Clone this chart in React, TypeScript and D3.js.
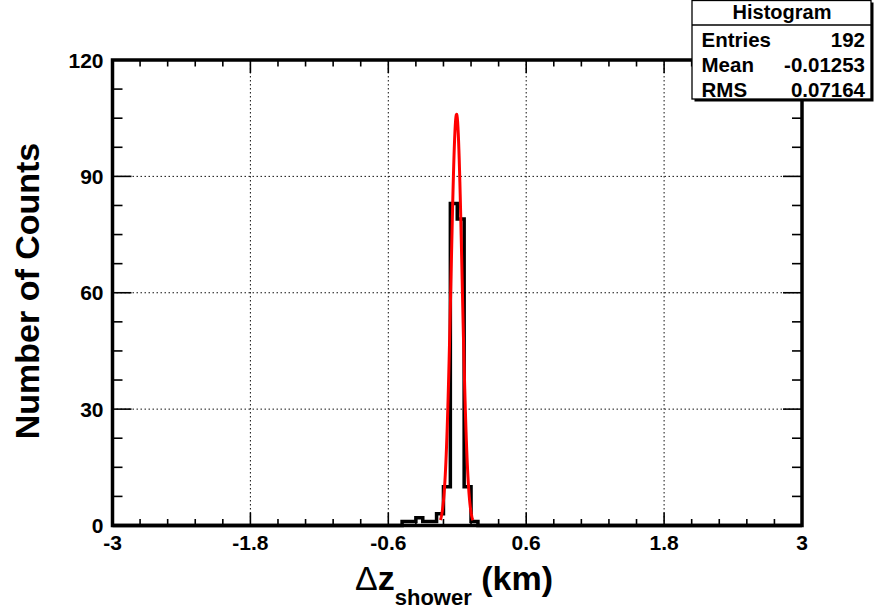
import React from "react";
import * as d3 from "d3";

// ---- data ----
const xDomain = [-3, 3];
const yDomain = [0, 120];
const nBins = 100;
// non-empty bins: lower edges and counts
const binLowEdges = [-0.48, -0.42, -0.36, -0.3, -0.24, -0.18, -0.12, -0.06, 0.0, 0.06, 0.12];
const binCounts = [1, 1, 2, 1, 1, 3, 10, 83, 79, 10, 1];
const xMajorTicks = [-3, -1.8, -0.6, 0.6, 1.8, 3];
const xTickLabels = ["-3", "-1.8", "-0.6", "0.6", "1.8", "3"];
const yMajorTicks = [0, 30, 60, 90, 120];
const yTickLabels = ["0", "30", "60", "90", "120"];
// gaussian fit parameters
const fitConstant = 106;
const fitMean = -0.006;
const fitSigma = 0.048;
const fitRange = [-0.147, 0.136];
// stats box
const statTitle = "Histogram";
const statNames = ["Entries", "Mean", "RMS"];
const statValues = ["192", "-0.01253", "0.07164"];

const W = 874;
const H = 612;
const FONT = "'Liberation Sans', Arial, Helvetica, sans-serif";

export default function App() {
  const x = d3.scaleLinear().domain(xDomain).range([112.5, 802]);
  const y = d3.scaleLinear().domain(yDomain).range([525.5, 60]);
  const [x0, x1] = x.range();
  const [yb, yt] = y.range();

  const binWidth = (xDomain[1] - xDomain[0]) / nBins;
  const counts: number[] = new Array(nBins).fill(0);
  binLowEdges.forEach((lo, i) => {
    const idx = Math.round((lo - xDomain[0]) / binWidth);
    counts[idx] = binCounts[i];
  });

  let hist = `M${x(xDomain[0])},${y(0)}`;
  counts.forEach((c, i) => {
    const lo = xDomain[0] + i * binWidth;
    const hi = lo + binWidth;
    hist += `L${x(lo)},${y(c)}L${x(hi)},${y(c)}`;
  });
  hist += `L${x(xDomain[1])},${y(0)}`;

  const nPts = 100;
  const fitPts: [number, number][] = d3.range(nPts + 1).map((k) => {
    const xv = fitRange[0] + (k / nPts) * (fitRange[1] - fitRange[0]);
    const v = fitConstant * Math.exp(-0.5 * ((xv - fitMean) / fitSigma) ** 2);
    return [x(xv), y(v)];
  });
  const fitPath = d3.line()(fitPts) || "";

  const xMinor = d3.range(0, 26).map((k) => xDomain[0] + k * 0.24);
  const yMinor = d3.range(0, 17).map((k) => k * 7.5);

  const tickW = 1.6;

  return (
    <svg
      width={W}
      height={H}
      style={{ position: "absolute", left: 0, top: 0, background: "#fff" }}
      fontFamily={FONT}
    >
      <rect x={0} y={0} width={W} height={H} fill="#fff" />
      {/* grid */}
      {xMajorTicks
        .filter((t) => t > xDomain[0] && t < xDomain[1])
        .map((t) => (
          <line key={"gx" + t} x1={x(t)} x2={x(t)} y1={yt} y2={yb} stroke="#111" strokeWidth={1} strokeDasharray="1.5 2.5" />
        ))}
      {yMajorTicks
        .filter((t) => t > yDomain[0] && t < yDomain[1])
        .map((t) => (
          <line key={"gy" + t} x1={x0} x2={x1} y1={y(t)} y2={y(t)} stroke="#111" strokeWidth={1} strokeDasharray="1.5 2.5" />
        ))}

      {/* ticks */}
      {xMinor.map((t) => {
        const major = xMajorTicks.some((m) => Math.abs(m - t) < 1e-6);
        const L = major ? 13 : 6.5;
        return (
          <g key={"xt" + t}>
            <line x1={x(t)} x2={x(t)} y1={yb} y2={yb - L} stroke="#000" strokeWidth={tickW} />
            <line x1={x(t)} x2={x(t)} y1={yt} y2={yt + L} stroke="#000" strokeWidth={tickW} />
          </g>
        );
      })}
      {yMinor.map((t) => {
        const major = yMajorTicks.some((m) => Math.abs(m - t) < 1e-6);
        const L = major ? 19 : 10;
        return (
          <g key={"yt" + t}>
            <line x1={x0} x2={x0 + L} y1={y(t)} y2={y(t)} stroke="#000" strokeWidth={tickW} />
            <line x1={x1} x2={x1 - L} y1={y(t)} y2={y(t)} stroke="#000" strokeWidth={tickW} />
          </g>
        );
      })}

      {/* histogram */}
      <path d={hist} fill="none" stroke="#000" strokeWidth={3.5} strokeLinejoin="miter" />
      {/* fit */}
      <path d={fitPath} fill="none" stroke="#ff0000" strokeWidth={3} strokeLinejoin="round" />

      {/* frame */}
      <rect x={x0} y={yt} width={x1 - x0} height={yb - yt} fill="none" stroke="#000" strokeWidth={3.5} />

      {/* tick labels */}
      {xMajorTicks.map((t, i) => (
        <text key={"xl" + t} x={x(t)} y={550} fontSize={21} fontWeight="bold" textAnchor="middle">
          {xTickLabels[i]}
        </text>
      ))}
      {yMajorTicks.map((t, i) => (
        <text key={"yl" + t} x={103.5} y={y(t) + 7.5} fontSize={21} fontWeight="bold" textAnchor="end">
          {yTickLabels[i]}
        </text>
      ))}

      {/* axis titles */}
      <text transform="translate(39,291) rotate(-90)" fontSize={34} fontWeight="bold" textAnchor="middle">
        Number of Counts
      </text>
      <text x={355} y={590} fontSize={34} fontWeight="bold">
        <tspan fontWeight="normal">Δ</tspan>
        <tspan>z</tspan>
        <tspan fontSize={22} dy={15}>shower</tspan>
        <tspan dy={-15}> (km)</tspan>
      </text>

      {/* stats box */}
      <rect x={694.5} y={2.5} width={179} height={99} fill="#000" />
      <rect x={692} y={0.5} width={179} height={98.5} fill="#fff" stroke="#000" strokeWidth={1.3} />
      <line x1={692} x2={871} y1={25} y2={25} stroke="#000" strokeWidth={1.3} />
      <text x={782} y={19} fontSize={20} fontWeight="bold" textAnchor="middle">
        {statTitle}
      </text>
      {statNames.map((n, i) => (
        <g key={n}>
          <text x={701.5} y={46.5 + i * 25} fontSize={20.5} fontWeight="bold">
            {n}
          </text>
          <text x={865} y={46.5 + i * 25} fontSize={20.5} fontWeight="bold" textAnchor="end">
            {statValues[i]}
          </text>
        </g>
      ))}
    </svg>
  );
}
